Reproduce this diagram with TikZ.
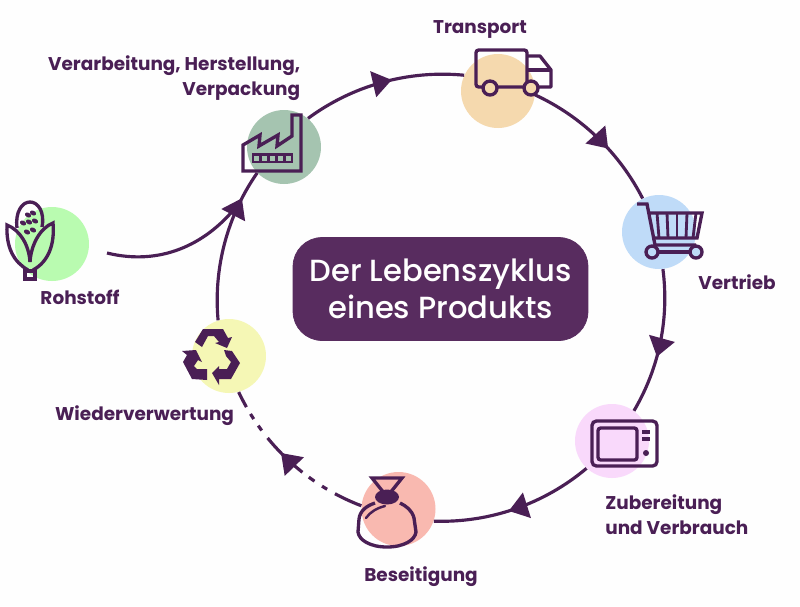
\documentclass[tikz,border=0pt]{standalone}
\usepackage{fontspec}
\setmainfont{Poppins}[BoldFont={Poppins Bold}]
\newfontfamily\titelfont{Poppins Medium}
\definecolor{lila}{RGB}{74,31,85}
\definecolor{boxlila}{RGB}{88,44,95}
\definecolor{grund}{RGB}{254,254,254}
\definecolor{fabrikgruen}{RGB}{165,196,176}
\definecolor{lkwgelb}{RGB}{245,217,174}
\definecolor{korbblau}{RGB}{191,219,248}
\definecolor{ofenrosa}{RGB}{249,217,251}
\definecolor{sackrot}{RGB}{249,185,176}
\definecolor{kreislaufgelb}{RGB}{245,247,181}
\definecolor{maisgruen}{RGB}{185,251,176}
\usetikzlibrary{arrows.meta,decorations.markings}
\tikzset{
  punkt/.style={circle, minimum size=1.48cm, inner sep=0pt},
  beschriftung/.style={font=\fontsize{10.5}{14.2}\selectfont\bfseries, text=lila, inner sep=0pt},
  ikon/.style={draw=lila, line width=1.9pt},
  fluss/.style={draw=lila, line width=1.8pt, looseness=0.88, postaction={decorate},
    decoration={markings, mark=at position #1 with {\arrow{Triangle[length=.38cm,width=.52cm]}}}},
}

\begin{document}
\begin{tikzpicture}[x=0.02cm, y=-0.02cm]
  \fill[grund] (0,0) rectangle (800,606);

  \node[punkt, fill=maisgruen] (rohstoff) at (52,244) {};
  \node[punkt, fill=fabrikgruen] (fabrik) at (284,147) {};
  \node[punkt, fill=lkwgelb] (transport) at (498,91) {};
  \node[punkt, fill=korbblau] (vertrieb) at (659,232) {};
  \node[punkt, fill=ofenrosa] (zubereitung) at (612,441) {};
  \node[punkt, fill=sackrot] (beseitigung) at (398.5,509) {};
  \node[punkt, fill=kreislaufgelb] (wieder) at (229,356) {};

  \node[draw=boxlila, fill=boxlila, rounded corners=0.58cm, minimum width=5.9cm, minimum height=2.06cm, align=center, text=white, font=\fontsize{17.4}{21}\selectfont\titelfont] (titel) at (440.5,289) {Der Lebenszyklus\\eines Produkts};

  \node[beschriftung, anchor=east, align=right] (lfabrik) at (300.5,78) {Verarbeitung, Herstellung,\\Verpackung};
  \node[beschriftung] (ltransport) at (480,29.5) {Transport};
  \node[beschriftung] (lvertrieb) at (737,282) {Vertrieb};
  \node[beschriftung, anchor=west, align=left] (lzubereitung) at (605,514.5) {Zubereitung\\und Verbrauch};
  \node[beschriftung] (lbeseitigung) at (421,576.5) {Beseitigung};
  \node[beschriftung] (lwieder) at (144.5,415.5) {Wiederverwertung};
  \node[beschriftung] (lrohstoff) at (80,297) {Rohstoff};

  % connectors
  \coordinate (maisende) at (107,253);
  \coordinate (muendung) at (236,207);
  \draw[line width=1.8pt, draw=lila] (maisende) .. controls (160,266) and (205,245) .. (muendung);
  \draw[fluss=0.81] (wieder.107) to[bend left=20] (fabrik.224);
  \draw[fluss=0.56] (fabrik.50) to[bend left=21] (transport.155);
  \draw[fluss=0.6] (transport.-6) to[bend left=19] (vertrieb.116);
  \draw[fluss=0.6] (vertrieb.-84) to[bend left=19] (zubereitung.54);
  \draw[fluss=0.54] (zubereitung.227) to[bend left=21] (beseitigung.-19);
  \draw[fluss=0.565, dash pattern=on .58cm off .18cm on .12cm off .18cm on .14cm off .16cm on .98cm off .19cm on .12cm off .16cm on .12cm off .16cm on .6cm] (beseitigung.175) to[bend left=22] (wieder.-75);

  % mais
  \draw[ikon] (25,271) rectangle (35,279);
  \draw[ikon] (28,270) .. controls (14,262) and (6,248) .. (7,225) .. controls (20,230) and (29,245) .. (30,262);
  \draw[ikon] (33,270) .. controls (48,262) and (55,245) .. (53,223) .. controls (40,228) and (31,245) .. (30,262);
  \draw[ikon] (17,228) .. controls (15,212) and (22,202) .. (30,202) .. controls (38,202) and (45,212) .. (42,227);
  \foreach \kx/\ky in {28/215,33/213,23/223,29/222,35/221,27/232,33/230}
    \fill[lila, rotate around={-30:(\kx,\ky)}] (\kx,\ky) ellipse (3.2 and 2.3);

  % fabrik
  \draw[ikon] (243,145) -- (260,135) -- (259,146) -- (278,135) -- (277,146) -- (292,136) -- (292,115) -- (301,115) -- (301,171) -- (243,171) -- cycle;
  \fill[lila] (252,153) rectangle (293,163);
  \foreach \fx in {256,264,272,280,288}
    \fill[fabrikgruen] (\fx-2.5,155.5) rectangle (\fx+2.5,160.5);

  % lkw
  \draw[ikon, rounded corners=1.5pt] (476,87) -- (476,50) -- (527,50) -- (527,87) -- cycle;
  \draw[ikon, line join=round] (527,56) -- (540,56) -- (551,70) -- (551,87) -- (527,87);
  \draw[ikon] (527,70) -- (551,70);
  \draw[ikon, fill=lkwgelb] (490,88) circle (7);
  \draw[ikon, fill=lkwgelb] (531,88) circle (7);

  % wagen
  \draw[ikon] (637,204) -- (647,204) -- (655,245) -- (696,245);
  \draw[ikon] (648,213) -- (702,213) -- (697,238) -- (652,238);
  \foreach \wx/\wy in {657/659,667/668,677/677,687/686,696/693}
    \draw[lila, line width=1.6pt] (\wx,213) -- (\wy,238);
  \draw[ikon] (652,252) -- (696,252);
  \draw[ikon, fill=korbblau] (652,252) circle (6);
  \draw[ikon, fill=korbblau] (696,252) circle (6);

  % mikrowelle
  \draw[ikon, rounded corners=2.5pt] (592,421) rectangle (657,466);
  \draw[ikon, rounded corners=1.5pt] (598,428) rectangle (637,460);
  \draw[ikon] (642,432) -- (650,432);
  \draw[ikon] (642,439) -- (650,439);
  \fill[lila] (646,453) circle (3);

  % sack
  \draw[ikon] (372,478) -- (402,478) -- (390,493) -- (384,493) -- cycle;
  \fill[lila] (387,497) ellipse (12 and 7.5);
  \draw[ikon] (375,503) .. controls (366,506) and (360,511) .. (359,519) -- (358,532) .. controls (359,540) and (370,547) .. (387,547) .. controls (404,547) and (415,540) .. (416,532) -- (414,518) .. controls (412,510) and (406,506) .. (400,503);
  \draw[ikon, line cap=round, line width=1.4pt] (366,518) .. controls (370,512) and (377,508) .. (385,506);

  % recycling
  \fill[lila] (195,342) -- (203,329) -- (223,329) -- (228,338) -- (232,337) -- (227,348) -- (215,343) -- (219,342) -- (214,336) -- (208,336) -- (202,347) -- cycle;
  \fill[lila] (182,351) -- (196,350) -- (202,362) -- (198,360) -- (194,366) -- (197,369) -- (207,369) -- (207,380) -- (192,379) -- (183,362) -- (187,355) -- cycle;
  \fill[lila] (224,350) -- (232,351) -- (240,363) -- (231,379) -- (219,379) -- (219,385) -- (212,373) -- (219,366) -- (219,369) -- (227,369) -- (231,362) -- (226,356) -- cycle;
\end{tikzpicture}
\end{document}
